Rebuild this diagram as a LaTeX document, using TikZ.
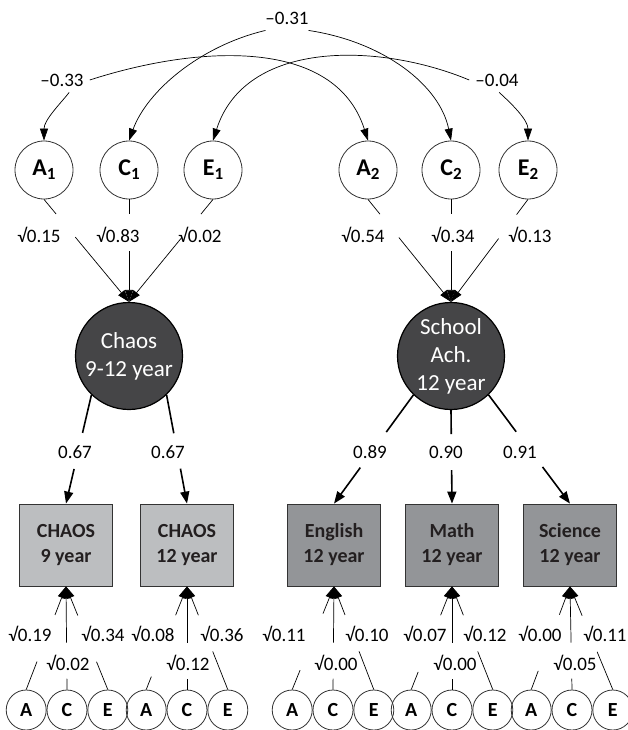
\documentclass[tikz,border=0pt]{standalone}
\usepackage{fontspec}
\setmainfont{Carlito}
\usetikzlibrary{arrows.meta, positioning}

\definecolor{latentgray}{HTML}{454547}
\definecolor{chaosgray}{HTML}{BCBEC0}
\definecolor{achgray}{HTML}{939598}
\definecolor{edgegray}{HTML}{333333}
\definecolor{inkgray}{HTML}{231F20}

\newcommand{\idx}[1]{\raisebox{-4pt}{\fontsize{17}{17}\selectfont #1}}

\tikzstyle{ace} = [circle, minimum size=58pt, inner sep=0pt, draw=edgegray,
                   line width=0.8pt, font=\fontsize{24}{24}\selectfont\bfseries]
\tikzstyle{acesmall} = [circle, minimum size=40pt, inner sep=0pt, draw=edgegray,
                        line width=0.8pt, font=\fontsize{20}{20}\selectfont\bfseries]
\tikzstyle{latent} = [circle, minimum size=107pt, inner sep=0pt, draw=black,
                      fill=latentgray, line width=1.2pt, text=white, align=center,
                      font=\fontsize{23}{28}\selectfont]
\tikzstyle{chaosbox} = [rectangle, minimum width=93pt, minimum height=82pt,
                        draw=edgegray, fill=chaosgray, line width=0.8pt, align=center,
                        text=inkgray, font=\fontsize{20}{25}\selectfont\bfseries]
\tikzstyle{achbox} = [chaosbox, fill=achgray]
\tikzstyle{weight} = [inner sep=1pt, font=\fontsize{19}{19}\selectfont]
\tikzstyle{corrlabel} = [inner sep=6pt, font=\fontsize{19}{19}\selectfont]
\tikzstyle{arrow} = [-{Triangle[length=12pt, width=8pt]}, line width=0.7pt]
\tikzstyle{thickarrow} = [-{Triangle[length=12pt, width=9pt]}, line width=1.6pt]
\tikzset{gapped/.style 2 args={dash pattern=on #1 off #2 on 400pt}}

\begin{document}
\begin{tikzpicture}[x=1pt, y=-1pt]
    \useasboundingbox (0,0) rectangle (628,730);

    % ACE factors, top
    \node[ace] (A1) at (44,170) {A\idx{1}};
    \node[ace] (C1) at (129,170) {C\idx{1}};
    \node[ace] (E1) at (213,170) {E\idx{1}};
    \node[ace] (A2) at (368,170) {A\idx{2}};
    \node[ace] (C2) at (451,170) {C\idx{2}};
    \node[ace] (E2) at (528,170) {E\idx{2}};

    % Latent factors
    \node[latent] (chaos) at (129,356) {Chaos\\9-12 year};
    \node[latent] (school) at (451,356) {School\\Ach.\\12 year};

    % Measures
    \node[chaosbox] (chaos9) at (66,545) {CHAOS\\9 year};
    \node[chaosbox] (chaos12) at (187,545) {CHAOS\\12 year};
    \node[achbox] (english) at (334,545) {English\\12 year};
    \node[achbox] (math) at (452,545) {Math\\12 year};
    \node[achbox] (science) at (570,545) {Science\\12 year};

    % Residual ACE, bottom
    \node[acesmall] (c9) at (67,710) {C};
    \node[acesmall, left=0pt of c9] (a9) {A};
    \node[acesmall, right=0pt of c9] (e9) {E};
    \node[acesmall] (c12) at (187,710) {C};
    \node[acesmall, left=0pt of c12] (a12) {A};
    \node[acesmall, right=0pt of c12] (e12) {E};
    \node[acesmall] (ceng) at (333,710) {C};
    \node[acesmall, left=0pt of ceng] (aeng) {A};
    \node[acesmall, right=0pt of ceng] (eeng) {E};
    \node[acesmall] (cmath) at (452,710) {C};
    \node[acesmall, left=0pt of cmath] (amath) {A};
    \node[acesmall, right=0pt of cmath] (emath) {E};
    \node[acesmall] (csci) at (572,710) {C};
    \node[acesmall, left=0pt of csci] (asci) {A};
    \node[acesmall, right=0pt of csci] (esci) {E};

    % Correlations
    \node[corrlabel] (r1) at (62,80) {–0.33};
    \node[corrlabel] (r2) at (287,18) {–0.31};
    \node[corrlabel] (r3) at (497,80) {–0.04};
    \draw[arrow] (r1.-60) .. controls (60,104) and (44,120) .. (A1.north);
    \draw[arrow] (r1.east) .. controls (198,45) and (335,37) .. (A2.north);
    \draw[arrow] (r2.-150) .. controls (200,46) and (147,91) .. (C1.north);
    \draw[arrow] (r2.-30) .. controls (385,42) and (440,86) .. (C2.north);
    \draw[arrow] (r3.west) .. controls (378,42) and (245,40) .. (E1.north);
    \draw[arrow] (r3.-80) .. controls (512,104) and (528,120) .. (E2.north);

    % Paths into the latent factors
    \draw[arrow, gapped={19pt}{30pt}] (A1.south) -- (chaos.north);
    \draw[arrow, gapped={15pt}{37pt}] (C1.south) -- (chaos.north);
    \draw[arrow, gapped={19pt}{30pt}] (E1.south) -- (chaos.north);
    \draw[arrow, gapped={19pt}{30pt}] (A2.south) -- (school.north);
    \draw[arrow, gapped={15pt}{37pt}] (C2.south) -- (school.north);
    \draw[arrow, gapped={19pt}{30pt}] (E2.south) -- (school.north);

    \node[weight] (wa1) at (39,235) {√0.15};
    \node[weight] (wc1) at (118,235) {√0.83};
    \node[weight] (we1) at (200,235) {√0.02};
    \node[weight] (wa2) at (363,235) {√0.54};
    \node[weight] (wc2) at (453,235) {√0.34};
    \node[weight] (we2) at (530,235) {√0.13};

    % Loadings
    \draw[thickarrow, gapped={39pt}{37pt}] (chaos.226) -- (chaos9.north);
    \draw[thickarrow, gapped={39pt}{36pt}] (chaos.314) -- (chaos12.north);
    \draw[thickarrow, gapped={46pt}{44pt}] (school.226) -- (english.north);
    \draw[thickarrow, gapped={24pt}{36pt}] (school.south) -- (math.north);
    \draw[thickarrow, gapped={46pt}{44pt}] (school.314) -- (science.north);

    \node[weight] (l9) at (75,452) {0.67};
    \node[weight] (l12) at (168,452) {0.67};
    \node[weight] (leng) at (370,452) {0.89};
    \node[weight] (lmath) at (446,452) {0.90};
    \node[weight] (lsci) at (520,452) {0.91};

    % Residual paths
    \draw[arrow, gapped={30pt}{50pt}] (a9.north) -- (chaos9.south);
    \draw[arrow, gapped={11pt}{36pt}] (c9.north) -- (chaos9.south);
    \draw[arrow, gapped={30pt}{50pt}] (e9.north) -- (chaos9.south);
    \draw[arrow, gapped={14pt}{66pt}] (a12.north) -- (chaos12.south);
    \draw[arrow, gapped={11pt}{36pt}] (c12.north) -- (chaos12.south);
    \draw[arrow, gapped={41pt}{39pt}] (e12.north) -- (chaos12.south);
    \draw[arrow, gapped={21pt}{61pt}] (aeng.north) -- (english.south);
    \draw[arrow, gapped={11pt}{36pt}] (ceng.north) -- (english.south);
    \draw[arrow, gapped={41pt}{39pt}] (eeng.north) -- (english.south);
    \draw[arrow, gapped={19pt}{61pt}] (amath.north) -- (math.south);
    \draw[arrow, gapped={11pt}{36pt}] (cmath.north) -- (math.south);
    \draw[arrow, gapped={41pt}{39pt}] (emath.north) -- (math.south);
    \draw[arrow, gapped={20pt}{60pt}] (asci.north) -- (science.south);
    \draw[arrow, gapped={11pt}{36pt}] (csci.north) -- (science.south);
    \draw[arrow, gapped={41pt}{39pt}] (esci.north) -- (science.south);

    \node[weight] (wa9) at (30,634) {√0.19};
    \node[weight] (we9) at (103,634) {√0.34};
    \node[weight] (wc9) at (68,663) {√0.02};
    \node[weight] (wa12) at (153,634) {√0.08};
    \node[weight] (we12) at (222,634) {√0.36};
    \node[weight] (wc12) at (188,663) {√0.12};
    \node[weight] (waeng) at (284,634) {√0.11};
    \node[weight] (weeng) at (367,634) {√0.10};
    \node[weight] (wceng) at (336,663) {√0.00};
    \node[weight] (wamath) at (425,634) {√0.07};
    \node[weight] (wemath) at (485,634) {√0.12};
    \node[weight] (wcmath) at (455,663) {√0.00};
    \node[weight] (wasci) at (540,634) {√0.00};
    \node[weight] (wesci) at (605,634) {√0.11};
    \node[weight] (wcsci) at (575,663) {√0.05};
\end{tikzpicture}
\end{document}
